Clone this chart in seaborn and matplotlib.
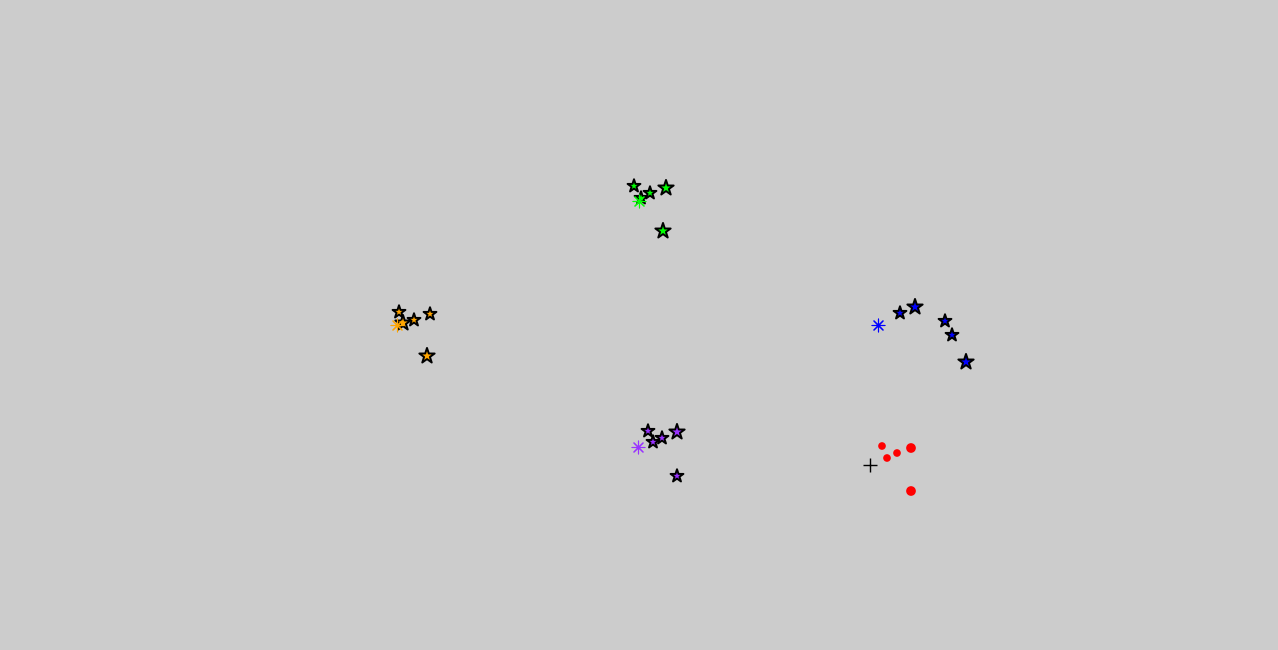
import pandas as pd
import matplotlib
matplotlib.use("Agg")
import matplotlib.pyplot as plt
import seaborn as sns

# cluster members (x, y, y grows downward)
groups = ["green"] * 5 + ["orange"] * 5 + ["blue"] * 5 + ["purple"] * 5 + ["red"] * 5
xs = [634, 641, 650, 666, 663,
      399, 403, 414, 430, 427,
      900, 915, 945, 952, 966,
      648, 653, 662, 677, 677,
      882, 887, 897, 911, 911]
ys = [186, 198, 193, 188, 231,
      312, 323, 320, 314, 356,
      313, 307, 321, 335, 362,
      431, 442, 438, 432, 476,
      446, 458, 453, 448, 491]
weights = [1, 1, 1, 2, 2,
           1, 2, 1, 1, 2,
           1, 2, 1, 1, 2,
           1, 1, 1, 2, 1,
           1, 1, 1, 2, 2]

# cluster centres
center_groups = ["green", "orange", "blue", "purple", "red"]
center_x = [639, 397, 878, 638, 870]
center_y = [201, 325, 325, 447, 465]

colors = {"green": "#00ff00", "orange": "orange", "blue": "blue",
          "purple": "#9933ff", "red": "red"}

df = pd.DataFrame({"x": xs, "y": ys, "group": groups, "w": weights})
centers = pd.DataFrame({"x": center_x, "y": center_y, "group": center_groups})

fig = plt.figure(figsize=(12.78, 6.5), dpi=100)
fig.patch.set_facecolor("#cccccc")
ax = fig.add_axes([0, 0, 1, 1])
ax.set_facecolor("#cccccc")

stars = df[df["group"] != "red"]
sns.scatterplot(data=stars, x="x", y="y", hue="group", palette=colors,
                size="w", sizes=(95, 135), marker="*", edgecolor="black",
                linewidth=1.4, legend=False, ax=ax, zorder=2)

reds = df[df["group"] == "red"]
sns.scatterplot(data=reds, x="x", y="y", color="red", size="w",
                sizes=(16, 30), marker="o", edgecolor="red", linewidth=1.5,
                legend=False, ax=ax, zorder=2)

# centres on top
cs = centers[centers["group"] != "red"]
for _, r in cs.iterrows():
    ax.scatter(r["x"], r["y"], marker=(8, 2, 0), s=85,
               color=colors[r["group"]], linewidths=0.8, zorder=3)

cr = centers[centers["group"] == "red"]
ax.scatter(cr["x"], cr["y"], marker="+", s=110, color="black", linewidths=1, zorder=3)

ax.set_xlim(0, 1278)
ax.set_ylim(650, 0)
ax.axis("off")

plt.savefig("out.png", dpi=100, facecolor="#cccccc")
